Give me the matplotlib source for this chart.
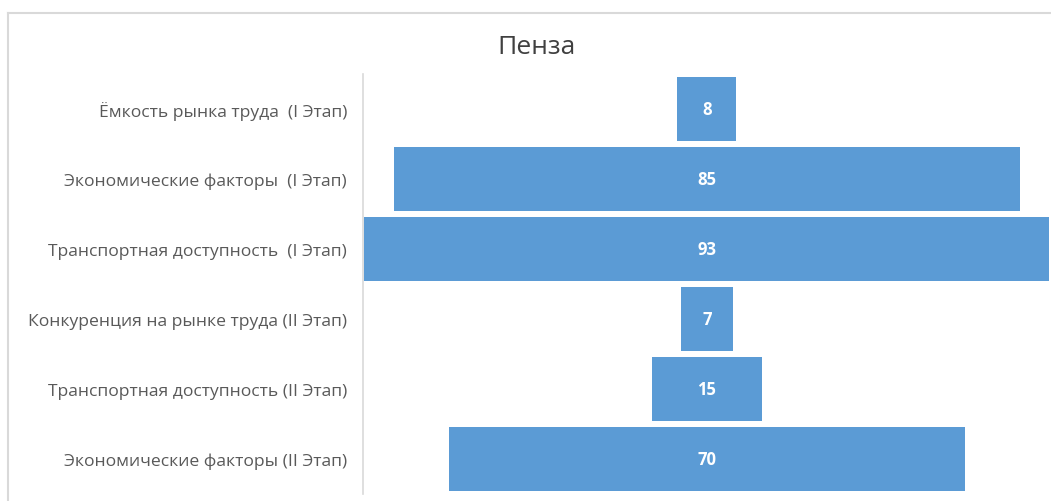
import matplotlib
matplotlib.use("Agg")
import matplotlib.pyplot as plt
from matplotlib.lines import Line2D

categories = [
    "Ёмкость рынка труда  (I Этап)",
    "Экономические факторы  (I Этап)",
    "Транспортная доступность  (I Этап)",
    "Конкуренция на рынке труда (II Этап)",
    "Транспортная доступность (II Этап)",
    "Экономические факторы (II Этап)",
]
values = [8, 85, 93, 7, 15, 70]
title = "Пенза"

plt.rcParams['font.family'] = ['Open Sans', 'DejaVu Sans']

fig = plt.figure(figsize=(10.51, 5.02), dpi=100)
ax = fig.add_axes([363 / 1051, 7 / 502, 687 / 1051, 420 / 502])

ypos = list(range(len(values)))
lefts = [-v / 2 for v in values]
ax.barh(ypos, values, left=lefts, height=0.91, color="#5B9BD5")
for y, v in zip(ypos, values):
    ax.text(0, y, str(v), ha="center", va="center", color="white",
            fontsize=12, fontweight="bold")

vmax = max(values)
ax.set_xlim(-vmax / 2 - 0.2, vmax / 2 + 0.1)
ax.set_ylim(len(values) - 0.5, -0.5)
ax.set_yticks(ypos)
ax.set_yticklabels(categories, fontsize=12.6, color="#595959")
ax.tick_params(axis="y", length=0, pad=11.5)
ax.set_xticks([])
for s in ["top", "right", "bottom"]:
    ax.spines[s].set_visible(False)
ax.spines["left"].set_color("#D9D9D9")
ax.spines["left"].set_linewidth(1.2)

fig.text(537 / 1051, 1 - 47 / 502, title, ha="center", va="center",
         fontsize=19, color="#404040")

# outer chart frame (partly cut off at right/bottom)
fig.add_artist(Line2D([8 / 1051, 1], [1 - 14 / 502, 1 - 14 / 502],
                      transform=fig.transFigure, color="#D9D9D9", lw=1.5))
fig.add_artist(Line2D([8 / 1051, 8 / 1051], [0, 1 - 14 / 502],
                      transform=fig.transFigure, color="#D9D9D9", lw=1.5))

fig.savefig("out.png", dpi=100)
